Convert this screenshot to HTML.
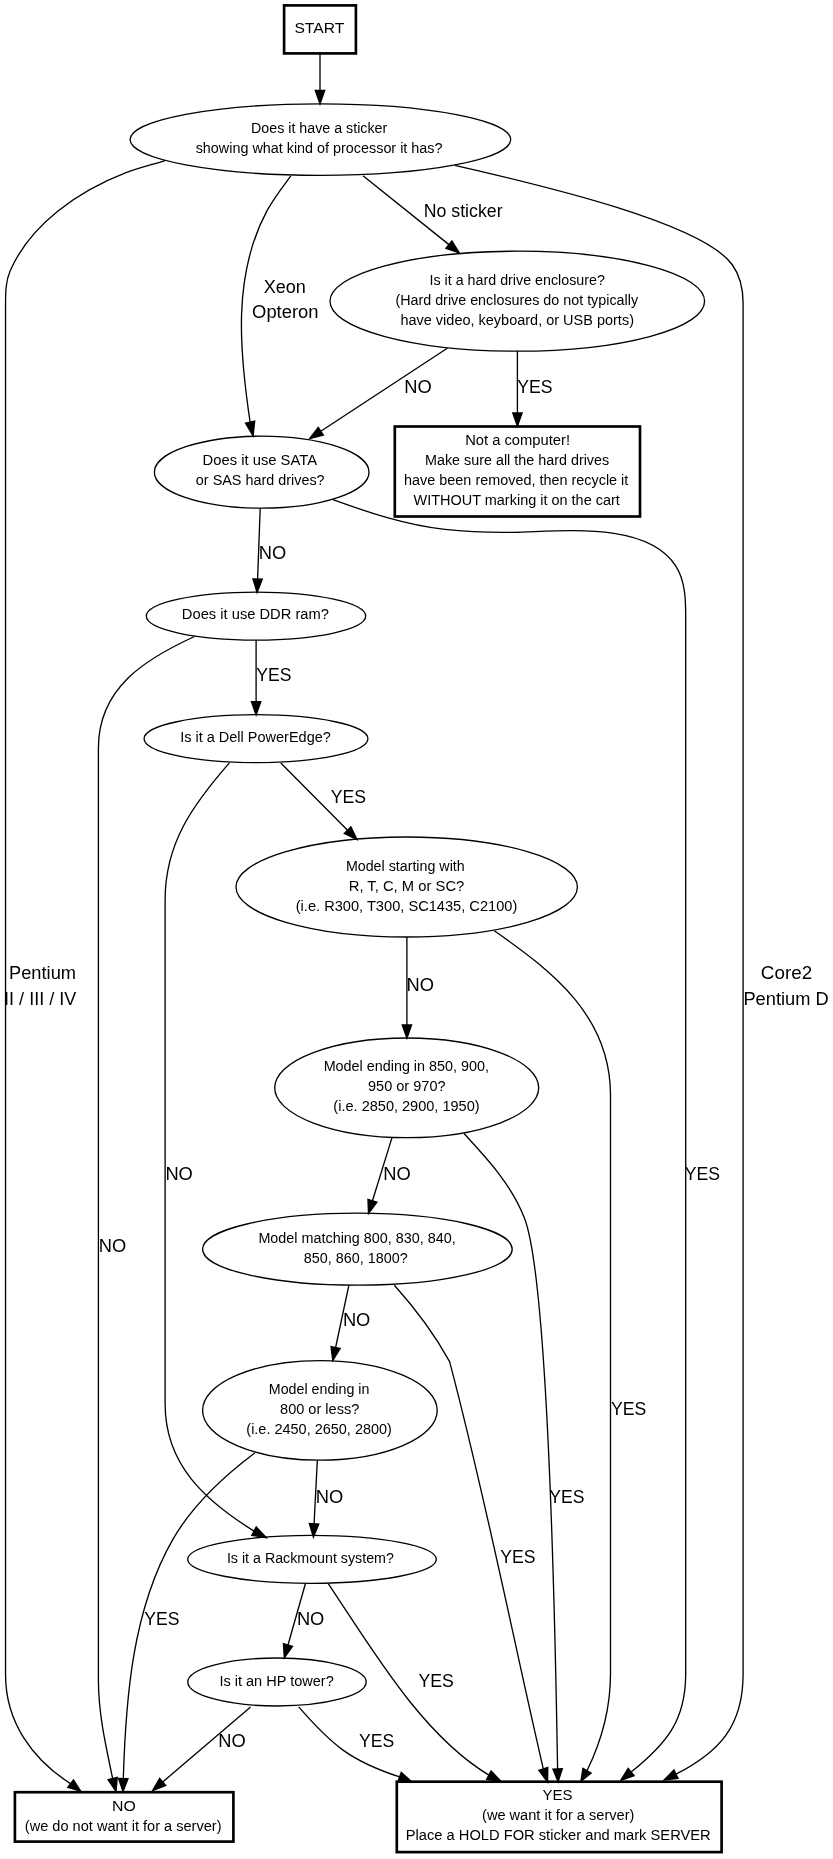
<!DOCTYPE html>
<html><head><meta charset="utf-8"><title>Server flowchart</title>
<style>
html,body{margin:0;padding:0;background:#fff}
svg{display:block;will-change:transform}
text{font-family:"Liberation Sans",Arial,Helvetica,sans-serif;fill:#000}
.n{font-size:14.67px;text-anchor:middle}
.el{font-size:18.67px}
.e{fill:#fff;stroke:#000;stroke-width:1.33}
.b{fill:#fff;stroke:#000;stroke-width:2.67}
.l{fill:none;stroke:#000;stroke-width:1.33}
.a{fill:#000;stroke:#000;stroke-width:1.33}
</style></head><body>
<svg width="833" height="1859" viewBox="0 0 833 1859">
<rect width="833" height="1859" fill="#fff"/>
<ellipse cx="320.4" cy="139.6" rx="190.3" ry="35.75" class="e"/>
<text id="t0" class="n" x="319.16" y="133.0" textLength="136.28" lengthAdjust="spacingAndGlyphs">Does it have a sticker</text>
<text id="t1" class="n" x="319.10" y="153.0" textLength="246.80" lengthAdjust="spacingAndGlyphs">showing what kind of processor it has?</text>
<ellipse cx="517.3" cy="301.2" rx="187.3" ry="50" class="e"/>
<text id="t2" class="n" x="517.20" y="285.0" textLength="175.32" lengthAdjust="spacingAndGlyphs">Is it a hard drive enclosure?</text>
<text id="t3" class="n" x="516.73" y="305.0" textLength="242.66" lengthAdjust="spacingAndGlyphs">(Hard drive enclosures do not typically</text>
<text id="t4" class="n" x="517.20" y="325.0" textLength="233.54" lengthAdjust="spacingAndGlyphs">have video, keyboard, or USB ports)</text>
<ellipse cx="261.7" cy="472.2" rx="107.3" ry="36" class="e"/>
<text id="t5" class="n" x="259.81" y="465.0" textLength="114.41" lengthAdjust="spacingAndGlyphs">Does it use SATA</text>
<text id="t6" class="n" x="260.21" y="485.0" textLength="128.73" lengthAdjust="spacingAndGlyphs">or SAS hard drives?</text>
<ellipse cx="256.0" cy="616.1" rx="109.7" ry="24" class="e"/>
<text id="t7" class="n" x="255.40" y="619.0" textLength="147.11" lengthAdjust="spacingAndGlyphs">Does it use DDR ram?</text>
<ellipse cx="256.0" cy="738.7" rx="111.9" ry="24" class="e"/>
<text id="t8" class="n" x="255.50" y="742.0" textLength="150.73" lengthAdjust="spacingAndGlyphs">Is it a Dell PowerEdge?</text>
<ellipse cx="406.7" cy="887.0" rx="170.7" ry="50" class="e"/>
<text id="t9" class="n" x="405.31" y="871.0" textLength="118.84" lengthAdjust="spacingAndGlyphs">Model starting with</text>
<text id="t10" class="n" x="406.50" y="891.0" textLength="115.58" lengthAdjust="spacingAndGlyphs">R, T, C, M or SC?</text>
<text id="t11" class="n" x="406.50" y="911.0" textLength="221.55" lengthAdjust="spacingAndGlyphs">(i.e. R300, T300, SC1435, C2100)</text>
<ellipse cx="406.7" cy="1087.8" rx="132.0" ry="49.8" class="e"/>
<text id="t12" class="n" x="406.30" y="1071.0" textLength="165.33" lengthAdjust="spacingAndGlyphs">Model ending in 850, 900,</text>
<text id="t13" class="n" x="406.80" y="1091.0" textLength="77.52" lengthAdjust="spacingAndGlyphs">950 or 970?</text>
<text id="t14" class="n" x="406.50" y="1111.0" textLength="146.28" lengthAdjust="spacingAndGlyphs">(i.e. 2850, 2900, 1950)</text>
<ellipse cx="357.4" cy="1249.2" rx="154.8" ry="36" class="e"/>
<text id="t15" class="n" x="357.10" y="1243.0" textLength="197.42" lengthAdjust="spacingAndGlyphs">Model matching 800, 830, 840,</text>
<text id="t16" class="n" x="355.71" y="1263.0" textLength="103.93" lengthAdjust="spacingAndGlyphs">850, 860, 1800?</text>
<ellipse cx="319.9" cy="1410.4" rx="117.3" ry="49.8" class="e"/>
<text id="t17" class="n" x="319.11" y="1394.0" textLength="100.54" lengthAdjust="spacingAndGlyphs">Model ending in</text>
<text id="t18" class="n" x="319.70" y="1414.0" textLength="79.33" lengthAdjust="spacingAndGlyphs">800 or less?</text>
<text id="t19" class="n" x="319.11" y="1434.0" textLength="145.58" lengthAdjust="spacingAndGlyphs">(i.e. 2450, 2650, 2800)</text>
<ellipse cx="312.0" cy="1559.3" rx="124.3" ry="24" class="e"/>
<text id="t20" class="n" x="310.41" y="1563.0" textLength="167.02" lengthAdjust="spacingAndGlyphs">Is it a Rackmount system?</text>
<ellipse cx="277.0" cy="1682.0" rx="89.2" ry="24" class="e"/>
<text id="t21" class="n" x="276.60" y="1686.0" textLength="114.39" lengthAdjust="spacingAndGlyphs">Is it an HP tower?</text>
<rect x="284.1" y="5.4" width="71.8" height="48.0" class="b"/>
<text id="t22" class="n" x="319.32" y="33.0" textLength="49.80" lengthAdjust="spacingAndGlyphs">START</text>
<rect x="394.8" y="426.5" width="245.2" height="90.0" class="b"/>
<text id="t23" class="n" x="517.60" y="445.0" textLength="104.89" lengthAdjust="spacingAndGlyphs">Not a computer!</text>
<text id="t24" class="n" x="517.10" y="465.0" textLength="184.16" lengthAdjust="spacingAndGlyphs">Make sure all the hard drives</text>
<text id="t25" class="n" x="516.21" y="485.0" textLength="224.21" lengthAdjust="spacingAndGlyphs">have been removed, then recycle it</text>
<text id="t26" class="n" x="516.70" y="505.0" textLength="206.25" lengthAdjust="spacingAndGlyphs">WITHOUT marking it on the cart</text>
<rect x="14.9" y="1792.2" width="218.5" height="49.4" class="b"/>
<text id="t27" class="n" x="123.96" y="1811.0" textLength="23.74" lengthAdjust="spacingAndGlyphs">NO</text>
<text id="t28" class="n" x="123.20" y="1831.0" textLength="196.74" lengthAdjust="spacingAndGlyphs">(we do not want it for a server)</text>
<rect x="396.8" y="1781.7" width="324.8" height="70.4" class="b"/>
<text id="t29" class="n" x="557.51" y="1800.0" textLength="29.96" lengthAdjust="spacingAndGlyphs">YES</text>
<text id="t30" class="n" x="558.20" y="1820.0" textLength="152.32" lengthAdjust="spacingAndGlyphs">(we want it for a server)</text>
<text id="t31" class="n" x="558.20" y="1840.0" textLength="304.96" lengthAdjust="spacingAndGlyphs">Place a HOLD FOR sticker and mark SERVER</text>
<path d="M320.00,53.40 L320.00,90.50" class="l"/>
<polygon points="315.30,90.50 320.00,103.90 324.70,90.50" class="a"/>
<path d="M165.10,160.60 C152.07,164.63 138.73,167.78 126.00,172.70 C79.26,190.75 30.91,223.35 10.10,271.00 C5.47,281.60 5.55,293.76 5.55,305.00 L5.55,1675.00 C5.55,1721.45 32.12,1759.60 70.60,1783.60" class="l"/>
<polygon points="67.77,1787.36 80.70,1791.20 73.43,1779.84" class="a"/>
<text class="el" x="9.02" y="979.3" textLength="67.00" lengthAdjust="spacingAndGlyphs">Pentium</text>
<text class="el" x="4.07" y="1004.5" textLength="72.20" lengthAdjust="spacingAndGlyphs">II / III / IV</text>
<path d="M290.80,175.90 C282.49,187.17 273.92,198.03 267.20,210.40 C232.09,275.02 239.70,352.22 250.10,422.10" class="l"/>
<polygon points="245.51,423.10 253.10,435.90 254.69,421.10" class="a"/>
<text class="el" x="263.73" y="293.0" textLength="42.13" lengthAdjust="spacingAndGlyphs">Xeon</text>
<text class="el" x="252.12" y="318.0" textLength="66.38" lengthAdjust="spacingAndGlyphs">Opteron</text>
<path d="M363.00,175.70 L448.95,244.62" class="l"/>
<polygon points="446.01,248.28 459.40,253.00 451.89,240.95" class="a"/>
<text class="el" x="423.75" y="217.0" textLength="78.79" lengthAdjust="spacingAndGlyphs">No sticker</text>
<path d="M454.90,165.30 C504.70,177.45 698.85,218.56 732.10,264.50 C740.41,275.99 743.10,289.04 743.10,303.00 L743.10,1674.00 C743.10,1725.40 720.26,1751.51 676.00,1774.20" class="l"/>
<polygon points="673.94,1769.98 664.10,1780.00 678.06,1778.42" class="a"/>
<text class="el" x="760.89" y="979.3" textLength="51.24" lengthAdjust="spacingAndGlyphs">Core2</text>
<text class="el" x="743.42" y="1004.5" textLength="85.26" lengthAdjust="spacingAndGlyphs">Pentium D</text>
<path d="M447.30,348.30 L320.81,431.25" class="l"/>
<polygon points="318.23,427.32 309.60,438.60 323.38,435.18" class="a"/>
<text class="el" x="404.32" y="393.0" textLength="27.45" lengthAdjust="spacingAndGlyphs">NO</text>
<path d="M517.40,351.20 L517.40,412.90" class="l"/>
<polygon points="512.70,412.90 517.40,426.30 522.10,412.90" class="a"/>
<text class="el" x="517.16" y="393.0" textLength="35.27" lengthAdjust="spacingAndGlyphs">YES</text>
<path d="M260.20,508.20 L257.59,579.01" class="l"/>
<polygon points="252.90,578.84 257.10,592.40 262.29,579.18" class="a"/>
<text class="el" x="258.72" y="558.7" textLength="27.45" lengthAdjust="spacingAndGlyphs">NO</text>
<path d="M333.00,499.60 C369.83,513.01 405.83,525.04 445.00,529.40 C467.81,531.94 490.67,532.60 513.60,532.30 C559.20,531.70 646.71,520.40 676.00,566.30 C685.19,580.70 685.70,599.55 685.70,616.00 L685.70,1674.00 C685.70,1720.95 666.04,1744.04 631.10,1772.10" class="l"/>
<polygon points="628.16,1768.43 620.60,1780.50 634.04,1775.77" class="a"/>
<text class="el" x="684.86" y="1179.5" textLength="35.27" lengthAdjust="spacingAndGlyphs">YES</text>
<path d="M194.50,636.50 C145.01,659.21 98.40,687.76 98.40,748.00 L98.40,1680.00 C98.40,1713.52 105.76,1746.02 112.70,1778.60" class="l"/>
<polygon points="108.15,1779.77 116.00,1791.40 117.25,1777.43" class="a"/>
<text class="el" x="98.82" y="1251.9" textLength="27.45" lengthAdjust="spacingAndGlyphs">NO</text>
<path d="M256.10,640.30 L256.10,701.60" class="l"/>
<polygon points="251.40,701.60 256.10,715.00 260.80,701.60" class="a"/>
<text class="el" x="256.16" y="680.7" textLength="35.27" lengthAdjust="spacingAndGlyphs">YES</text>
<path d="M229.40,762.90 C193.25,804.29 165.10,842.84 165.10,900.00 L165.10,1404.00 C165.10,1465.12 205.57,1500.90 254.00,1531.10" class="l"/>
<polygon points="251.79,1535.25 266.40,1537.70 256.21,1526.95" class="a"/>
<text class="el" x="165.42" y="1179.5" textLength="27.45" lengthAdjust="spacingAndGlyphs">NO</text>
<path d="M280.80,763.00 L347.56,830.19" class="l"/>
<polygon points="344.22,833.51 357.00,839.70 350.89,826.88" class="a"/>
<text class="el" x="330.86" y="803.4" textLength="35.27" lengthAdjust="spacingAndGlyphs">YES</text>
<path d="M406.90,937.00 L406.90,1024.90" class="l"/>
<polygon points="402.20,1024.90 406.90,1038.30 411.60,1024.90" class="a"/>
<text class="el" x="406.62" y="991.0" textLength="27.45" lengthAdjust="spacingAndGlyphs">NO</text>
<path d="M494.30,930.80 C553.39,972.02 610.50,1016.49 610.50,1095.00 L610.50,1674.00 C610.50,1707.68 601.76,1740.51 587.00,1770.70" class="l"/>
<polygon points="582.93,1768.36 580.90,1781.30 591.07,1773.04" class="a"/>
<text class="el" x="611.06" y="1415.0" textLength="35.27" lengthAdjust="spacingAndGlyphs">YES</text>
<path d="M392.00,1137.60 L372.46,1200.80" class="l"/>
<polygon points="367.97,1199.41 368.50,1213.60 376.95,1202.19" class="a"/>
<text class="el" x="383.22" y="1179.5" textLength="27.45" lengthAdjust="spacingAndGlyphs">NO</text>
<path d="M464.00,1133.50 C487.37,1158.77 511.95,1185.44 524.50,1218.20 C550.34,1285.64 556.14,1688.57 557.60,1768.90" class="l"/>
<polygon points="552.90,1769.08 558.10,1781.80 562.30,1768.72" class="a"/>
<text class="el" x="549.36" y="1503.0" textLength="35.27" lengthAdjust="spacingAndGlyphs">YES</text>
<path d="M348.90,1285.20 L335.60,1347.50" class="l"/>
<polygon points="331.00,1346.51 332.80,1360.60 340.19,1348.48" class="a"/>
<text class="el" x="342.92" y="1326.0" textLength="27.45" lengthAdjust="spacingAndGlyphs">NO</text>
<path d="M394.40,1285.20 C415.57,1308.89 434.36,1333.66 449.60,1361.60 C485.31,1496.27 511.92,1633.20 543.30,1768.90" class="l"/>
<polygon points="538.83,1770.37 547.60,1782.00 547.77,1767.43" class="a"/>
<text class="el" x="500.16" y="1563.4" textLength="35.27" lengthAdjust="spacingAndGlyphs">YES</text>
<path d="M254.70,1453.00 C223.42,1476.54 192.77,1504.78 173.00,1539.20 C132.26,1610.13 125.73,1698.86 123.30,1778.60" class="l"/>
<polygon points="118.60,1778.49 123.00,1791.50 128.00,1778.71" class="a"/>
<text class="el" x="144.36" y="1624.5" textLength="35.27" lengthAdjust="spacingAndGlyphs">YES</text>
<path d="M317.30,1460.60 L314.08,1523.82" class="l"/>
<polygon points="309.39,1523.58 313.40,1537.20 318.78,1524.06" class="a"/>
<text class="el" x="315.82" y="1502.5" textLength="27.45" lengthAdjust="spacingAndGlyphs">NO</text>
<path d="M305.40,1583.80 L287.97,1645.01" class="l"/>
<polygon points="283.45,1643.73 284.30,1657.90 292.49,1646.30" class="a"/>
<text class="el" x="296.92" y="1624.5" textLength="27.45" lengthAdjust="spacingAndGlyphs">NO</text>
<path d="M328.40,1583.80 C371.73,1648.43 421.61,1734.73 488.90,1775.10" class="l"/>
<polygon points="486.70,1779.26 501.20,1781.60 491.10,1770.94" class="a"/>
<text class="el" x="418.56" y="1686.5" textLength="35.27" lengthAdjust="spacingAndGlyphs">YES</text>
<path d="M250.60,1706.90 L162.69,1782.00" class="l"/>
<polygon points="159.64,1778.42 152.50,1790.70 165.74,1785.57" class="a"/>
<text class="el" x="218.32" y="1747.2" textLength="27.45" lengthAdjust="spacingAndGlyphs">NO</text>
<path d="M298.70,1706.90 C332.24,1745.43 350.63,1760.88 399.60,1776.90" class="l"/>
<polygon points="397.95,1781.30 411.10,1781.20 401.25,1772.50" class="a"/>
<text class="el" x="359.06" y="1747.2" textLength="35.27" lengthAdjust="spacingAndGlyphs">YES</text>
</svg>
</body></html>
